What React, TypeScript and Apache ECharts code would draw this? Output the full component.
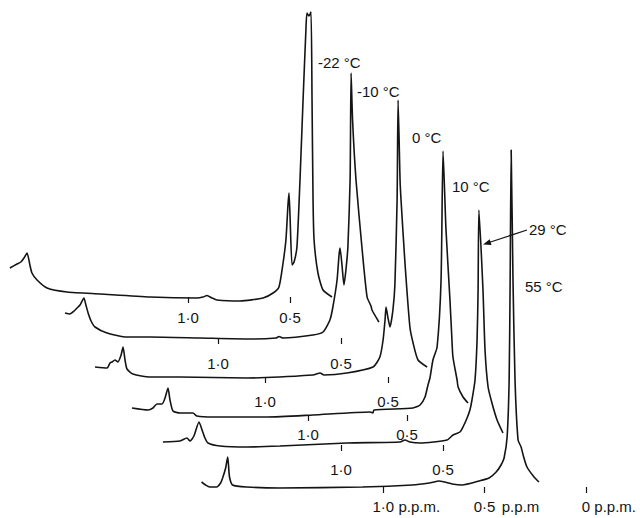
import React, { useEffect, useRef } from 'react';
import * as echarts from 'echarts';

// Temperatures of the six stacked spectra (top to bottom)
const temperatures = ['-22 °C', '-10 °C', '0 °C', '10 °C', '29 °C', '55 °C'];

// Each spectrum: [chemical shift (p.p.m.), intensity (arbitrary units)]
const spectrumM22: [number, number][] = [
  [1.873, 29], [1.838, 33], [1.819, 35], [1.804, 39], [1.789, 44], [1.775, 32], [1.765, 24], [1.74, 17],
  [1.691, 9], [1.593, 5], [1.431, 3], [1.186, 0], [0.956, -1], [0.926, 0], [0.907, 1.5], [0.882, -1],
  [0.858, -3], [0.745, -4], [0.632, -1], [0.583, 4], [0.554, 10], [0.534, 34], [0.52, 57], [0.51, 92],
  [0.505, 104], [0.5, 82], [0.49, 32], [0.48, 35], [0.466, 50], [0.451, 117], [0.436, 197], [0.422, 267],
  [0.417, 284], [0.407, 281], [0.397, 285], [0.392, 197], [0.387, 97], [0.382, 57], [0.363, 24], [0.338, 7],
  [0.294, 0],
];
const spectrumM10: [number, number][] = [
  [1.622, 25], [1.602, 24], [1.585, 27], [1.573, 30], [1.561, 33], [1.545, 40], [1.537, 33], [1.528, 25],
  [1.516, 17], [1.5, 11], [1.451, 5], [1.37, 1], [1.276, 1], [1.073, 0], [0.87, -1], [0.764, 0],
  [0.752, 1.5], [0.736, 0], [0.614, 3], [0.573, 6], [0.545, 18], [0.533, 31], [0.516, 58], [0.508, 83],
  [0.504, 90], [0.496, 73], [0.488, 53], [0.48, 68], [0.472, 91], [0.463, 158], [0.459, 265], [0.453, 218],
  [0.439, 158], [0.415, 91], [0.394, 41], [0.378, 32], [0.374, 28], [0.346, 16],
];
const spectrum0: [number, number][] = [
  [1.691, 10], [1.642, 9], [1.63, 14], [1.622, 15], [1.61, 17], [1.598, 15], [1.585, 22], [1.577, 30],
  [1.569, 17], [1.561, 8], [1.537, 3], [1.467, 0], [1.346, 0], [1.073, -1], [0.805, 2], [0.776, 4],
  [0.76, 2], [0.667, 4], [0.561, 10], [0.533, 20], [0.52, 37], [0.512, 57], [0.508, 70], [0.5, 59],
  [0.492, 50], [0.48, 67], [0.472, 92], [0.463, 177], [0.459, 277], [0.451, 197], [0.447, 177], [0.431, 114],
  [0.411, 50], [0.398, 34], [0.378, 17], [0.341, 10],
];
const spectrum10: [number, number][] = [
  [1.889, 7], [1.808, 5], [1.783, 7], [1.763, 11], [1.737, 11], [1.722, 17], [1.707, 27], [1.697, 15],
  [1.682, 4], [1.646, 2], [1.581, 2], [1.561, -1], [1.48, -2], [1.207, -2], [0.975, 0], [0.687, 3],
  [0.672, 2], [0.667, 5], [0.47, 7], [0.434, 10], [0.409, 18], [0.394, 30], [0.384, 37], [0.369, 55],
  [0.348, 68], [0.328, 135], [0.318, 264], [0.303, 185], [0.283, 115], [0.273, 75], [0.268, 58], [0.247, 35],
  [0.242, 28], [0.217, 18], [0.192, 12],
];
const spectrum29: [number, number][] = [
  [1.873, 3], [1.789, 4], [1.755, 7], [1.74, 4], [1.721, 9], [1.696, 23], [1.681, 15], [1.667, 7],
  [1.652, 2], [1.593, -1], [1.461, -2], [1.299, -1], [0.971, 2], [0.711, 3], [0.686, 5], [0.662, 3],
  [0.613, 2], [0.48, 5], [0.451, 10], [0.417, 13], [0.402, 18], [0.382, 27], [0.368, 35], [0.358, 45],
  [0.343, 65], [0.333, 105], [0.328, 155], [0.324, 235], [0.304, 155], [0.294, 95], [0.279, 58], [0.26, 42],
  [0.235, 25], [0.206, 12],
];
const spectrum55: [number, number][] = [
  [1.897, 5], [1.877, 2], [1.857, 0], [1.823, 0], [1.803, 4], [1.793, 9], [1.778, 19], [1.768, 30],
  [1.764, 22], [1.759, 10], [1.744, 2], [1.675, 0], [1.512, -1], [1.103, 0], [0.857, 2], [0.773, 4],
  [0.724, 6], [0.66, 3], [0.611, 2], [0.527, 6], [0.478, 9], [0.443, 15], [0.419, 22], [0.404, 29],
  [0.389, 50], [0.379, 107], [0.374, 207], [0.369, 337], [0.36, 207], [0.35, 107], [0.335, 47], [0.32, 40],
  [0.31, 32], [0.291, 20], [0.256, 10], [0.232, 5],
];

// Tick values (p.p.m.)
const rowTickValues = [1.0, 0.5];
const bottomTickValues = [1.0, 0.5, 0];
const bottomUnits = [' p.p.m.', ' p.p.m', ' p.p.m.'];

// ---- layout (positions only) ----
const W = 640;
const H = 518;
const INK = '#141414';
const FONT = '"Liberation Sans", Arial, sans-serif';
// zeroPx: pixel x of 0 p.p.m. for that trace; pxPerPpm: horizontal scale;
// base: pixel y of the trace baseline; axisY: pixel y where its tick marks start
const layout = [
  { zeroPx: 392, pxPerPpm: 204, base: 297, axisY: 303 },
  { zeroPx: 464, pxPerPpm: 246, base: 338, axisY: 349 },
  { zeroPx: 511, pxPerPpm: 246, base: 377, axisY: 387 },
  { zeroPx: 506, pxPerPpm: 198, base: 415, axisY: 420 },
  { zeroPx: 545, pxPerPpm: 204, base: 445, axisY: 455 },
  { zeroPx: 587, pxPerPpm: 203, base: 487, axisY: 492 },
];
const labelPos = [
  [318, 62], [357, 91], [412, 137], [452, 186], [529, 229], [525, 286],
];

const fmt = (v: number) => (Math.abs(v) < 1e-9 ? '0' : v.toFixed(1).replace('.', '·'));

export default function App() {
  const ref = useRef<HTMLDivElement>(null);
  useEffect(() => {
    document.body.style.margin = '0';
    const chart = echarts.init(ref.current as HTMLDivElement, null, { renderer: 'svg' });
    const spectra = [spectrumM22, spectrumM10, spectrum0, spectrum10, spectrum29, spectrum55];
    const last = layout.length - 1;

    const grid = layout.map((l) => ({ left: 0, right: 0, top: 0, bottom: H - l.axisY }));
    const xAxis = layout.map((l, i) => {
      const isBottom = i === last;
      const ticks = isBottom ? bottomTickValues : rowTickValues;
      return {
        type: 'value',
        gridIndex: i,
        inverse: true,
        min: (l.zeroPx - W) / l.pxPerPpm,
        max: l.zeroPx / l.pxPerPpm,
        splitLine: { show: false },
        axisLine: { show: false },
        axisTick: {
          show: true,
          length: 6,
          customValues: ticks,
          lineStyle: { color: INK, width: 1.2 },
        },
        axisLabel: {
          show: true,
          customValues: ticks,
          margin: 7,
          color: INK,
          fontFamily: FONT,
          fontSize: 15,
          hideOverlap: false,
          formatter: isBottom
            ? (v: number) => {
                const k = bottomTickValues.findIndex((t) => Math.abs(t - v) < 1e-6);
                return `{l| }{n|${fmt(v)}}{u|${bottomUnits[k >= 0 ? k : 0]}}`;
              }
            : (v: number) => fmt(v),
          rich: isBottom
            ? {
                l: { width: 46, fontSize: 15, fontFamily: FONT },
                n: { fontSize: 15, fontFamily: FONT, color: INK },
                u: { width: 46, fontSize: 15, fontFamily: FONT, color: INK, align: 'left' },
              }
            : undefined,
        },
      };
    });
    const yAxis = layout.map((l, i) => ({
      type: 'value',
      gridIndex: i,
      min: l.base - l.axisY,
      max: l.base,
      show: false,
    }));
    const series = spectra.map((data, i) => ({
      type: 'line',
      name: temperatures[i],
      xAxisIndex: i,
      yAxisIndex: i,
      data,
      symbol: 'none',
      showSymbol: false,
      clip: false,
      smooth: 0.2,
      lineStyle: { color: INK, width: 1.6 },
      z: 2 + i,
    }));

    const graphic: any[] = temperatures.map((t, i) => ({
      type: 'text',
      x: labelPos[i][0],
      y: labelPos[i][1],
      style: {
        text: t,
        fill: INK,
        fontSize: 15,
        fontFamily: FONT,
        textAlign: 'left',
        textVerticalAlign: 'middle',
      },
    }));
    // arrow from the 29 °C label to its peak
    graphic.push({
      type: 'polyline',
      shape: { points: [[527, 230], [489, 242.5]] },
      style: { stroke: INK, lineWidth: 1.2, fill: 'none' },
    });
    graphic.push({
      type: 'polygon',
      shape: { points: [[483, 244.5], [491.5, 244.9], [489.7, 239.2]] },
      style: { fill: INK },
    });

    chart.setOption({
      animation: false,
      backgroundColor: '#ffffff',
      grid,
      xAxis,
      yAxis,
      series,
      graphic,
    });
    return () => chart.dispose();
  }, []);
  return <div ref={ref} style={{ width: W, height: H }} />;
}
